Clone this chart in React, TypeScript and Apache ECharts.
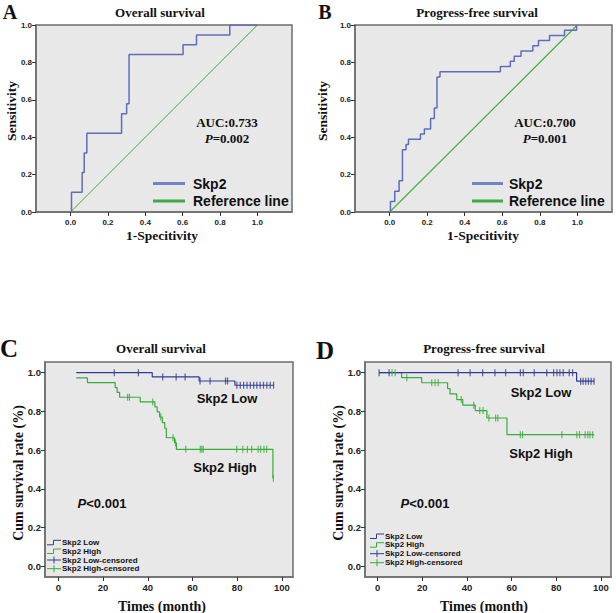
import React, { useEffect, useRef } from 'react';
import * as echarts from 'echarts';

// ---------- data ----------
const rocTicks = [0, 0.2, 0.4, 0.6, 0.8, 1.0];
const refX = [0, 1];
const refY = [0, 1];

// Panel A: ROC, overall survival
const rocAFpr = [0.005, 0.005, 0.062, 0.062, 0.073, 0.073, 0.087, 0.087, 0.273, 0.273, 0.300, 0.300, 0.313, 0.313, 0.602, 0.602, 0.674, 0.674, 0.852, 0.852, 1.0];
const rocATpr = [0, 0.105, 0.105, 0.211, 0.211, 0.316, 0.316, 0.421, 0.421, 0.526, 0.526, 0.579, 0.579, 0.842, 0.842, 0.895, 0.895, 0.947, 0.947, 1.0, 1.0];

// Panel B: ROC, progress-free survival
const rocBFpr = [0.004, 0.004, 0.027, 0.027, 0.050, 0.050, 0.068, 0.068, 0.087, 0.087, 0.100, 0.100, 0.164, 0.164, 0.185, 0.185, 0.218, 0.218, 0.238, 0.238, 0.252, 0.252, 0.268, 0.268, 0.590, 0.590, 0.643, 0.643, 0.664, 0.664, 0.700, 0.700, 0.763, 0.763, 0.793, 0.793, 0.852, 0.852, 0.932, 0.932, 0.996, 0.996];
const rocBTpr = [0, 0.056, 0.056, 0.111, 0.111, 0.167, 0.167, 0.333, 0.333, 0.361, 0.361, 0.389, 0.389, 0.417, 0.417, 0.444, 0.444, 0.500, 0.500, 0.556, 0.556, 0.722, 0.722, 0.750, 0.750, 0.778, 0.778, 0.806, 0.806, 0.833, 0.833, 0.861, 0.861, 0.889, 0.889, 0.917, 0.917, 0.944, 0.944, 0.972, 0.972, 1.0];

// KM axes
const kmXTicks = [0, 20, 40, 60, 80, 100];
const kmYTicks = [0, 0.2, 0.4, 0.6, 0.8, 1.0];

// Panel C: overall survival KM
const osLowTimes = [8, 42, 63, 79, 96.5];
const osLowSurv = [1.0, 0.978, 0.957, 0.935, 0.935];
const osLowCensor = [25, 35.8, 46.7, 52.7, 56.7, 63.4, 67.9, 74.8, 75.7, 79.9, 81.4, 82.9, 84.4, 85.9, 87.4, 88.8, 90.3, 91.8, 93.3, 94.8, 96.3];
const osHighTimes = [8, 13, 25.4, 26.3, 27.4, 36.6, 43.2, 44.2, 45.3, 46.5, 47.6, 48.3, 52.0, 52.8, 96.0, 96.3];
const osHighSurv = [0.973, 0.949, 0.923, 0.898, 0.873, 0.849, 0.823, 0.797, 0.771, 0.742, 0.713, 0.664, 0.638, 0.604, 0.455, 0.455];
const osHighCensor = [31.0, 31.8, 42.2, 45.8, 51.3, 52.4, 57.0, 63.5, 64.2, 64.8, 79.8, 82.5, 84.6, 86.5, 89.4, 90.5, 92.0, 93.2, 96.2];

// Panel D: progress-free survival KM
const pfsLowTimes = [0.6, 89.1, 97];
const pfsLowSurv = [1.0, 0.956, 0.956];
const pfsLowCensor = [0.6, 5.1, 36, 41.4, 47, 52.5, 57.3, 63.9, 65.2, 70.1, 75.7, 78.8, 80.3, 81.6, 83.1, 85.8, 87.3, 90.9, 92, 93.2, 94.4, 95.6, 96.9];
const pfsHighTimes = [0.6, 10.7, 19.7, 31.3, 32.4, 35.4, 38.1, 43.7, 48.9, 57.9, 97];
const pfsHighSurv = [1.0, 0.974, 0.948, 0.918, 0.890, 0.861, 0.832, 0.804, 0.766, 0.680, 0.680];
const pfsHighCensor = [6.4, 7.8, 13, 24.2, 25.7, 27.1, 37.4, 43, 45.7, 47.2, 49.8, 52.8, 53.8, 63.9, 64.9, 82.5, 89.2, 90.4, 92.9, 94.1, 95.1, 96.3];

// ---------- styles ----------
const SERIF = '"Liberation Serif", "Times New Roman", serif';
const SANS = '"Liberation Sans", Arial, sans-serif';
const ROC_BLUE = '#5f6dbb';
const ROC_BLUE_LEG = '#7482c8';
const REF_GREEN = '#45a845';
const REF_GREEN_B = '#3fb43f';
const KM_BLUE = '#2f3c8f';
const KM_GREEN = '#3aac3a';
const PLOT_BG = '#e8e8e8';
const BORDER = '#6e6e6e';
const TXT = '#111';

const zip = (xs: number[], ys: number[]) => xs.map((x, i) => [x, ys[i]]);
const survAt = (t: number, times: number[], surv: number[]) => {
  let s = surv[0];
  for (let i = 0; i < times.length; i++) if (times[i] <= t) s = surv[i];
  return s;
};
const censorData = (cs: number[], times: number[], surv: number[]) => cs.map((c) => [c, survAt(c, times, surv)]);

function txt(text: string, x: number, y: number, o: any = {}) {
  return {
    type: 'text',
    x,
    y,
    rotation: o.rotation || 0,
    silent: true,
    style: {
      text,
      fill: TXT,
      fontSize: o.size || 13,
      fontWeight: o.weight || 'bold',
      fontFamily: o.family || SERIF,
      fontStyle: o.style || 'normal',
      align: o.align || 'center',
      verticalAlign: 'middle',
      rich: o.rich,
    },
  };
}

function pText(rest: string, x: number, y: number, family: string, size: number) {
  const base = { fontWeight: 'bold', fontSize: size, fontFamily: family, fill: TXT };
  return txt('{i|P}{n|' + rest + '}', x, y, {
    family,
    size,
    rich: { i: { ...base, fontStyle: 'italic' }, n: { ...base } },
  });
}

function rocLegend(x1: number, x2: number, tx: number, y1: number, y2: number) {
  return [
    { type: 'line', silent: true, shape: { x1, y1, x2, y2: y1 }, style: { stroke: ROC_BLUE_LEG, lineWidth: 3 } },
    txt('Skp2', tx, y1, { family: SANS, size: 14, align: 'left' }),
    { type: 'line', silent: true, shape: { x1, y1: y2, x2, y2 }, style: { stroke: REF_GREEN, lineWidth: 3 } },
    txt('Reference line', tx, y2, { family: SANS, size: 14, align: 'left' }),
  ];
}

function kmLegend(x0: number, x1: number, tx: number, ys: number[]) {
  const xm = (x0 + x1) / 2;
  const lab = ['Skp2 Low', 'Skp2 High', 'Skp2 Low-censored', 'Skp2 High-censored'];
  const col = [KM_BLUE, KM_GREEN, KM_BLUE, KM_GREEN];
  const els: any[] = [];
  ys.forEach((y, i) => {
    if (i < 2) {
      els.push({
        type: 'polyline',
        silent: true,
        shape: { points: [[x0, y + 2.5], [xm - 0.5, y + 2.5], [xm - 0.5, y - 2], [x1, y - 2]] },
        style: { stroke: col[i], lineWidth: 1, fill: null },
      });
    } else {
      els.push({ type: 'line', silent: true, shape: { x1: x0, y1: y, x2: x1, y2: y }, style: { stroke: col[i], lineWidth: 1 } });
      els.push({ type: 'line', silent: true, shape: { x1: xm, y1: y - 3.5, x2: xm, y2: y + 3.5 }, style: { stroke: col[i], lineWidth: 1 } });
    }
    els.push(txt(lab[i], tx, y, { family: SANS, size: 8, align: 'left' }));
  });
  return els;
}

function gridCfg(left: number, top: number, width: number, height: number) {
  return {
    left, top, width, height,
    show: true,
    backgroundColor: PLOT_BG,
    borderColor: BORDER,
    borderWidth: 1.5,
    containLabel: false,
    outerBoundsMode: 'none',
  };
}

function axisCfg(kind: 'x' | 'y', gridIndex: number, min: number, max: number, ticks: number[], fmt: (v: number) => string, fontSize: number, margin: number) {
  return {
    type: 'value',
    gridIndex,
    min,
    max,
    position: kind === 'x' ? 'bottom' : 'left',
    axisLine: { show: true, onZero: false, lineStyle: { color: BORDER, width: 1.5 } },
    axisTick: { show: true, length: 4, customValues: ticks, lineStyle: { color: '#333', width: 1 } },
    axisLabel: {
      customValues: ticks,
      formatter: fmt,
      fontSize,
      fontWeight: 'bold',
      fontFamily: SANS,
      color: '#222',
      margin,
    },
    splitLine: { show: false },
  };
}

const f1 = (v: number) => v.toFixed(1);
const f0 = (v: number) => String(Math.round(v));

export default function App() {
  const ref = useRef<HTMLDivElement>(null);
  useEffect(() => {
    if (!ref.current) return;
    const chart = echarts.init(ref.current, undefined, { renderer: 'svg' });

    const lineS = (id: string, name: string, xi: number, data: number[][], color: string, width: number, step?: string) => ({
      type: 'line', id, name, xAxisIndex: xi, yAxisIndex: xi, data, showSymbol: false, symbol: 'none',
      step: step || false, color, lineStyle: { color, width, opacity: 1 }, itemStyle: { color }, silent: true, z: 3,
      emphasis: { disabled: true },
    });
    const censS = (id: string, name: string, xi: number, data: number[][], color: string) => ({
      type: 'scatter', id, name, xAxisIndex: xi, yAxisIndex: xi, data, symbol: 'rect', symbolSize: [1.2, 7],
      itemStyle: { color }, silent: true, z: 4,
    });

    chart.setOption({
      animation: false,
      backgroundColor: '#fff',
      grid: [
        gridCfg(36, 25, 256, 187),
        gridCfg(355, 25, 257, 187),
        gridCfg(45, 362, 248, 215),
        gridCfg(365, 362, 246, 215),
      ],
      xAxis: [
        axisCfg('x', 0, -0.185, 1.185, rocTicks, f1, 8, 6),
        axisCfg('x', 1, -0.185, 1.185, rocTicks, f1, 8, 6),
        axisCfg('x', 2, -6, 105, kmXTicks, f0, 9.5, 5),
        axisCfg('x', 3, -5.7, 104.5, kmXTicks, f0, 9.5, 5),
      ],
      yAxis: [
        axisCfg('y', 0, 0, 1, rocTicks, f1, 8, 4),
        axisCfg('y', 1, 0, 1, rocTicks, f1, 8, 4),
        axisCfg('y', 2, -0.055, 1.055, kmYTicks, f1, 9.5, 4),
        axisCfg('y', 3, -0.055, 1.055, kmYTicks, f1, 9.5, 4),
      ],
      series: [
        lineS('refB', 'Reference line (B)', 1, zip(refX, refY), REF_GREEN_B, 1.2),
        lineS('refA', 'Reference line (A)', 0, zip(refX, refY), REF_GREEN, 1),
        lineS('rocA', 'Skp2 (A)', 0, zip(rocAFpr, rocATpr), ROC_BLUE, 1.5),
        lineS('rocB', 'Skp2 (B)', 1, zip(rocBFpr, rocBTpr), ROC_BLUE, 1.5),
        lineS('osHigh', 'Skp2 High', 2, zip(osHighTimes, osHighSurv), KM_GREEN, 1.2, 'end'),
        lineS('osLow', 'Skp2 Low', 2, zip(osLowTimes, osLowSurv), KM_BLUE, 1.2, 'end'),
        censS('osHighC', 'Skp2 High-censored', 2, censorData(osHighCensor, osHighTimes, osHighSurv), KM_GREEN),
        censS('osLowC', 'Skp2 Low-censored', 2, censorData(osLowCensor, osLowTimes, osLowSurv), KM_BLUE),
        lineS('pfsHigh', 'Skp2 High (PFS)', 3, zip(pfsHighTimes, pfsHighSurv), KM_GREEN, 1.2, 'end'),
        lineS('pfsLow', 'Skp2 Low (PFS)', 3, zip(pfsLowTimes, pfsLowSurv), KM_BLUE, 1.2, 'end'),
        censS('pfsHighC', 'Skp2 High-censored (PFS)', 3, censorData(pfsHighCensor, pfsHighTimes, pfsHighSurv), KM_GREEN),
        censS('pfsLowC', 'Skp2 Low-censored (PFS)', 3, censorData(pfsLowCensor, pfsLowTimes, pfsLowSurv), KM_BLUE),
      ],
      graphic: [
        // Panel A
        txt('A', 10, 12, { size: 20 }),
        txt('Overall survival', 160, 12, { size: 13 }),
        txt('Sensitivity', 11, 111, { size: 13.5, rotation: Math.PI / 2 }),
        txt('1-Specitivity', 162, 235, { size: 13.5 }),
        txt('AUC:0.733', 227, 122, { size: 13 }),
        pText('=0.002', 227, 138, SERIF, 13),
        ...rocLegend(153, 185, 193, 183.5, 201),
        // Panel B
        txt('B', 325, 12, { size: 20 }),
        txt('Progress-free survival', 477, 12, { size: 13 }),
        txt('Sensitivity', 322, 111, { size: 13.5, rotation: Math.PI / 2 }),
        txt('1-Specitivity', 483, 235, { size: 13.5 }),
        txt('AUC:0.700', 545, 122, { size: 13 }),
        pText('=0.001', 545, 138, SERIF, 13),
        ...rocLegend(472, 503, 509, 183.5, 201),
        // Panel C
        txt('C', 9, 348, { size: 25 }),
        txt('Overall survival', 161, 348, { size: 13 }),
        txt('Cum survival rate (%)', 18, 473, { size: 14, rotation: Math.PI / 2 }),
        txt('Times (month)', 162, 606, { size: 14 }),
        txt('Skp2 Low', 227, 398, { family: SANS, size: 13 }),
        txt('Skp2 High', 225, 467, { family: SANS, size: 13 }),
        pText('<0.001', 102, 503, SANS, 13),
        ...kmLegend(47, 61, 62, [542.3, 551, 560, 568.7]),
        // Panel D
        txt('D', 325, 350, { size: 25 }),
        txt('Progress-free survival', 484, 348, { size: 13 }),
        txt('Cum survival rate (%)', 338, 473, { size: 14, rotation: Math.PI / 2 }),
        txt('Times (month)', 484, 606, { size: 14 }),
        txt('Skp2 Low', 541, 392, { family: SANS, size: 13 }),
        txt('Skp2 High', 541, 453, { family: SANS, size: 13 }),
        pText('<0.001', 425, 503, SANS, 13),
        ...kmLegend(370, 384, 385, [536, 544.7, 553.7, 562.7]),
      ],
    });
    return () => chart.dispose();
  }, []);
  return (
    <div
      ref={ref}
      style={{ position: 'absolute', left: 0, top: 0, width: 616, height: 613, background: '#fff' }}
    />
  );
}
